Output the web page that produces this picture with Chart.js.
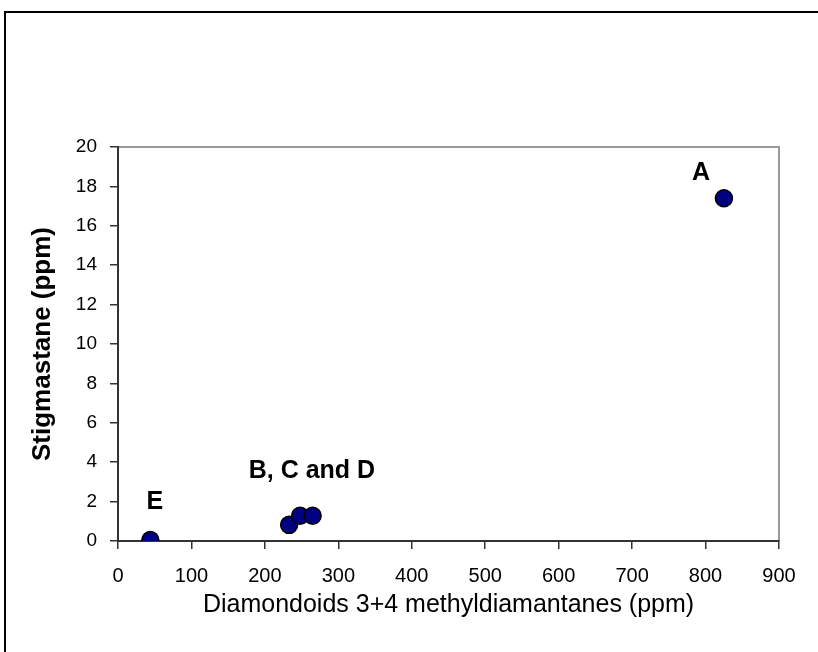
<!DOCTYPE html>
<html>
<head>
<meta charset="utf-8">
<script src="https://cdn.jsdelivr.net/npm/chart.js@4"></script>
<style>
  html, body { margin: 0; padding: 0; background: #fff; }
  #wrap { width: 818px; height: 652px; }
</style>
</head>
<body>
<div id="wrap"><canvas id="chart" width="818" height="652"></canvas></div>
<script>
// Samples (ppm)
const sampleNames = ['A', 'B', 'C', 'D', 'E'];
const methyldiamantanes = [825, 233, 248, 265, 44];
const stigmastane = [17.4, 0.82, 1.28, 1.28, 0.05];

// group labels placed in data coordinates
const labelTexts = ['A', 'B, C and D', 'E'];
const labelX = [794, 264, 50];
const labelY = [18.7, 3.55, 1.95];

const xTitle = 'Diamondoids 3+4 methyldiamantanes (ppm)';
const yTitle = 'Stigmastane (ppm)';

const FONT = "'Liberation Sans', Arial, sans-serif";

// frame round the figure + grey top/right edges of the plot area
const framePlugin = {
    id: 'frame',
    beforeDraw(chart) {
        const c = chart.ctx;
        const a = chart.chartArea;
        c.save();
        c.strokeStyle = '#000';
        c.lineWidth = 2;
        c.beginPath();
        c.moveTo(5, 700);
        c.lineTo(5, 12);
        c.lineTo(830, 12);
        c.stroke();
        c.strokeStyle = '#999';
        c.lineWidth = 2;
        c.beginPath();
        c.moveTo(a.left, a.top);
        c.lineTo(a.right, a.top);
        c.lineTo(a.right, a.bottom);
        c.stroke();
        c.restore();
    }
};

// text labels next to the points
const labelPlugin = {
    id: 'pointLabels',
    afterDatasetsDraw(chart) {
        const c = chart.ctx;
        const xs = chart.scales.x, ys = chart.scales.y;
        c.save();
        c.font = 'bold 25px ' + FONT;
        c.fillStyle = '#000';
        c.textAlign = 'center';
        c.textBaseline = 'middle';
        labelTexts.forEach((t, i) => {
            c.fillText(t, xs.getPixelForValue(labelX[i]), ys.getPixelForValue(labelY[i]));
        });
        c.restore();
    }
};

const points = methyldiamantanes.map((v, i) => ({ x: v, y: stigmastane[i], name: sampleNames[i] }));

const ctx = document.getElementById('chart').getContext('2d');
const chart = new Chart(ctx, {
    type: 'scatter',
    data: {
        datasets: [{
            data: points,
            backgroundColor: '#000080',
            borderColor: '#000',
            borderWidth: 1.5,
            pointRadius: 8.5,
            pointHoverRadius: 8.5
        }]
    },
    options: {
        responsive: false,
        animation: false,
        layout: { padding: { top: 147, right: 39, left: 0, bottom: 0 } },
        plugins: {
            legend: { display: false },
            tooltip: { enabled: false }
        },
        scales: {
            x: {
                type: 'linear',
                min: 0,
                max: 900,
                afterFit: (s) => { s.height = 111; },
                ticks: {
                    stepSize: 100,
                    color: '#000',
                    padding: 15,
                    maxRotation: 0,
                    font: { family: FONT, size: 20 }
                },
                grid: {
                    drawOnChartArea: false,
                    color: '#333',
                    lineWidth: 1.5,
                    tickLength: 8
                },
                border: { color: '#333', width: 2 },
                title: {
                    display: true,
                    text: xTitle,
                    color: '#000',
                    font: { family: FONT, size: 25 },
                    padding: { top: 0, bottom: 32 }
                }
            },
            y: {
                type: 'linear',
                min: 0,
                max: 20,
                afterFit: (s) => { s.width = 118; },
                ticks: {
                    stepSize: 2,
                    color: '#000',
                    padding: 13,
                    font: { family: FONT, size: 19 }
                },
                grid: {
                    drawOnChartArea: false,
                    color: '#333',
                    lineWidth: 1.5,
                    tickLength: 8
                },
                border: { color: '#333', width: 2 },
                title: {
                    display: true,
                    text: yTitle,
                    color: '#000',
                    font: { family: FONT, size: 26, weight: 'bold' },
                    padding: { top: 27, bottom: 0 }
                }
            }
        }
    },
    plugins: [framePlugin, labelPlugin]
});
</script>
</body>
</html>
